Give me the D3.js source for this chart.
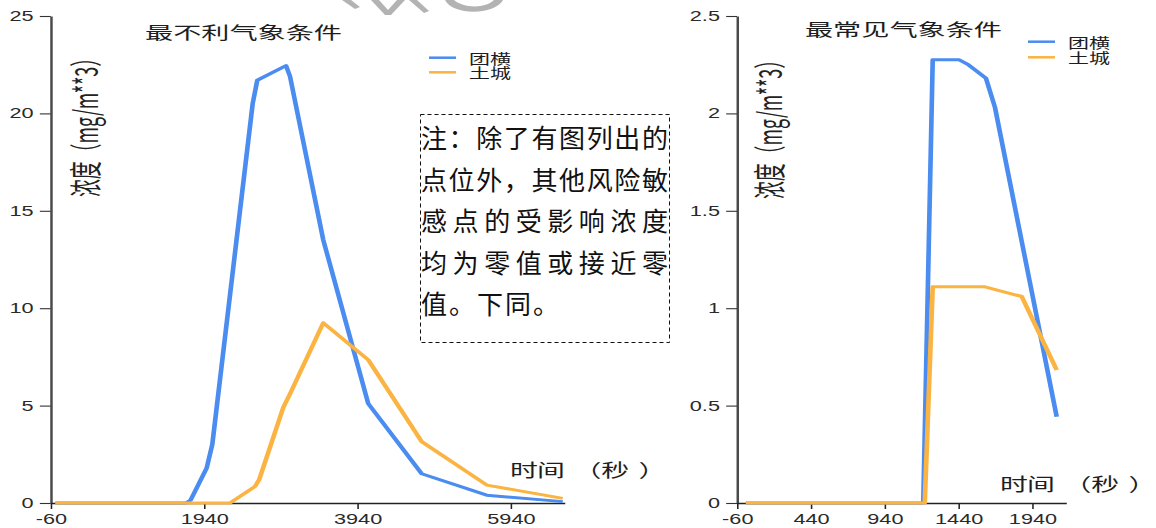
<!DOCTYPE html>
<html>
<head>
<meta charset="utf-8">
<script src="https://cdn.jsdelivr.net/npm/d3@7"></script>
<style>
  html, body { margin: 0; padding: 0; background: #fff; }
  svg { display: block; }
</style>
</head>
<body>
<svg id="fig" width="1156" height="528"></svg>
<script>
// ---- 最不利气象条件 (left panel) ----
const worstTuanhengTime = [0, 1706, 1766, 1975, 2048, 2575, 2635, 3010, 3062, 3496, 4083, 4780, 5628, 6620];
const worstTuanheng     = [0, 0, 0.15, 1.8, 3.0, 20.5, 21.7, 22.45, 21.9, 13.5, 5.1, 1.5, 0.4, 0.07];
const worstTuchengTime  = [0, 2279, 2605, 2660, 2974, 3062, 3496, 4083, 4780, 5628, 6620];
const worstTucheng      = [0, 0, 0.85, 1.2, 4.9, 5.6, 9.25, 7.35, 3.15, 0.92, 0.24];
const worstXTicks = [-60, 1940, 3940, 5940];
const worstYTicks = [0, 5, 10, 15, 20, 25];

// ---- 最常见气象条件 (right panel) ----
const usualTuanhengTime = [0, 1202, 1266, 1446, 1507, 1627, 1688, 2106];
const usualTuanheng     = [0, 0, 2.275, 2.275, 2.25, 2.18, 2.03, 0.443];
const usualTuchengTime  = [0, 1212, 1266, 1620, 1869, 2106];
const usualTucheng      = [0, 0, 1.11, 1.11, 1.06, 0.683];
const usualXTicks = [-60, 440, 940, 1440, 1940];
const usualYTicks = [0, 0.5, 1, 1.5, 2, 2.5];

const seriesNames = ["团横", "土城"];
const seriesColors = ["#4a8cf0", "#fbb341"];
const yLabelText = "浓度（mg/m**3）";
const xLabelText = "时间 （秒）";

const noteLines = [
  "注：除了有图列出的",
  "点位外，其他风险敏",
  "感点的受影响浓度",
  "均为零值或接近零",
  "值。下同。"
];

const CJK = "'Noto Sans CJK SC', 'Noto Sans', sans-serif";
const LATIN = "'Liberation Sans', Arial, 'DejaVu Sans', sans-serif";

// Both charts are laid out on a narrower canvas and stretched horizontally.
const SX = 1.55;
const svg = d3.select("#fig");

// faint logo fragment along the top edge
const mark = svg.append("g").attr("fill", "#b3b3b3").attr("stroke", "none");
mark.append("path").attr("d", "M342,0 L351,0 L360,7 L355,9 Z");
mark.append("path").attr("d", "M371,0 L379,0 L388,10 L397,0 L405,0 L391,15 L385,15 Z");
mark.append("path").attr("d", "M409,0 L417,0 L429,11 L424,13 Z");
mark.append("path").attr("d", "M445,0 L454,0 C463,8 485,9 494,0 L503,0 C495,15 453,16 445,0 Z");

const stage = svg.append("g").attr("transform", `scale(${SX},1)`);

function drawPanel(cfg) {
  const g = stage.append("g");
  const x = d3.scaleLinear().domain(cfg.xDomain).range([cfg.x0 / SX, cfg.x1 / SX]);
  const y = d3.scaleLinear().domain(cfg.yDomain).range([503, 16]);
  const fmt = d => String(d);

  // y axis
  const ya = g.append("g")
    .attr("transform", `translate(${cfg.x0 / SX},0)`)
    .call(d3.axisLeft(y).tickValues(cfg.yTicks).tickFormat(fmt)
      .tickSize(7).tickPadding(4).tickSizeOuter(0));
  ya.select(".domain").attr("stroke", "#4a4a4a").attr("stroke-width", 1.6);
  ya.selectAll(".tick line").attr("stroke", "#333").attr("stroke-width", 1.1);
  ya.selectAll(".tick text").attr("font-size", 14).attr("font-family", LATIN).attr("fill", "#2a2a2a");

  // x axis
  const xa = g.append("g")
    .attr("transform", "translate(0,503)")
    .call(d3.axisBottom(x).tickValues(cfg.xTicks).tickFormat(fmt)
      .tickSize(6).tickPadding(5).tickSizeOuter(0));
  xa.select(".domain").attr("stroke", "#222").attr("stroke-width", 1.3);
  xa.selectAll(".tick line").attr("stroke", "#222").attr("stroke-width", 1);
  xa.selectAll(".tick text").attr("font-size", 14).attr("font-family", LATIN).attr("fill", "#2a2a2a");

  // series lines
  const line = d3.line().x(d => x(d[0])).y(d => y(d[1]));
  cfg.series.forEach((s, i) => {
    g.append("path")
      .datum(d3.zip(s.t, s.v))
      .attr("d", line)
      .attr("fill", "none")
      .attr("stroke", seriesColors[i])
      .attr("stroke-width", 3)
      .attr("stroke-linejoin", "round");
  });

  // title
  g.append("text")
    .attr("x", cfg.titleX / SX).attr("y", cfg.titleY)
    .attr("text-anchor", "middle")
    .attr("font-family", CJK).attr("font-size", 17).attr("fill", "#1e1e1e")
    .attr("textLength", 197 / SX).attr("lengthAdjust", "spacingAndGlyphs")
    .text(cfg.title);

  // y label (rotated)
  g.append("text")
    .attr("transform", `translate(${cfg.yLabelX / SX},${cfg.yLabelY}) rotate(-90)`)
    .attr("text-anchor", "middle").attr("dominant-baseline", "central")
    .attr("font-family", CJK).attr("font-size", 21).attr("fill", "#222")
    .attr("textLength", 148).attr("lengthAdjust", "spacingAndGlyphs")
    .text(yLabelText);

  // x label: the bracketed unit sits a little further out
  g.append("text")
    .attr("x", cfg.xLabelX / SX).attr("y", cfg.xLabelY)
    .attr("font-family", CJK).attr("font-size", 18).attr("fill", "#1e1e1e")
    .attr("dx", "0 -0.6 0 1.5 0 6")
    .text(xLabelText);

  // legend
  seriesNames.forEach((name, i) => {
    const ly = cfg.legendY + i * cfg.legendStep;
    g.append("line")
      .attr("x1", cfg.legendX / SX).attr("x2", (cfg.legendX + 27) / SX)
      .attr("y1", ly).attr("y2", ly)
      .attr("stroke", seriesColors[i]).attr("stroke-width", 2.5);
    g.append("text")
      .attr("x", (cfg.legendX + 40) / SX).attr("y", ly + 6)
      .attr("font-family", CJK).attr("font-size", 14).attr("fill", "#1e1e1e")
      .attr("textLength", 42 / SX).attr("lengthAdjust", "spacingAndGlyphs")
      .text(name);
  });
}

drawPanel({
  title: "最不利气象条件", titleX: 243.5, titleY: 39,
  x0: 50.7, x1: 564.5, xDomain: [-60, 6643], yDomain: [0, 25],
  xTicks: worstXTicks, yTicks: worstYTicks,
  yLabelX: 84, yLabelY: 123,
  xLabelX: 510, xLabelY: 477,
  legendX: 429, legendY: 57.7, legendStep: 14.6,
  series: [
    { t: worstTuanhengTime, v: worstTuanheng },
    { t: worstTuchengTime, v: worstTucheng }
  ]
});

drawPanel({
  title: "最常见气象条件", titleX: 903.5, titleY: 36.5,
  x0: 737, x1: 1066, xDomain: [-60, 2169], yDomain: [0, 2.5],
  xTicks: usualXTicks, yTicks: usualYTicks,
  yLabelX: 768, yLabelY: 125,
  xLabelX: 1000, xLabelY: 491,
  legendX: 1028, legendY: 41.7, legendStep: 15.6,
  series: [
    { t: usualTuanhengTime, v: usualTuanheng },
    { t: usualTuchengTime, v: usualTucheng }
  ]
});

// dashed note box
const note = svg.append("g");
note.append("rect")
  .attr("x", 420.5).attr("y", 114.5).attr("width", 249).attr("height", 228)
  .attr("fill", "none").attr("stroke", "#111").attr("stroke-width", 1)
  .attr("stroke-dasharray", "4,3");
noteLines.forEach((txt, i) => {
  const t = note.append("text")
    .attr("x", 421).attr("y", 148 + i * 41.5)
    .attr("font-family", CJK).attr("font-size", 26).attr("fill", "#111")
    .text(txt);
  if (i < noteLines.length - 1) {
    t.attr("textLength", 247).attr("lengthAdjust", "spacing");
  } else {
    t.attr("letter-spacing", 2);
  }
});
</script>
</body>
</html>
